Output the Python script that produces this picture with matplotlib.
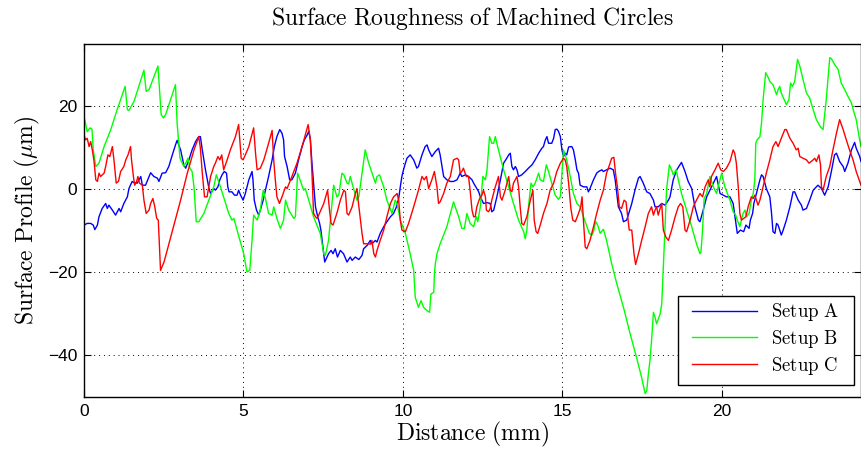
import matplotlib
matplotlib.use("Agg")
import matplotlib.pyplot as plt
from matplotlib.patches import Rectangle

plt.rcParams['mathtext.fontset'] = 'cm'
plt.rcParams['font.family'] = ['Liberation Sans', 'DejaVu Sans']

# ---- data ----
a_x = [0.00, 0.10, 0.21, 0.29, 0.34, 0.42, 0.47, 0.57, 0.68, 0.73, 0.78, 0.89, 0.99, 1.10, 1.15, 1.25, 1.36, 1.41, 1.51, 1.57,
       1.67, 1.78, 1.83, 1.93, 2.04, 2.09, 2.19, 2.30, 2.35, 2.45, 2.56, 2.66, 2.77, 2.87, 2.92, 3.03, 3.13, 3.19, 3.29, 3.39,
       3.50, 3.60, 3.65, 3.71, 3.81, 3.92, 3.97, 4.07, 4.12, 4.20, 4.26, 4.33, 4.40, 4.47, 4.51, 4.55, 4.64, 4.72, 4.80, 4.85,
       4.91, 4.99, 5.06, 5.17, 5.27, 5.30, 5.34, 5.41, 5.48, 5.53, 5.62, 5.69, 5.79, 5.90, 5.97, 6.05, 6.14, 6.21, 6.26, 6.29,
       6.37, 6.45, 6.52, 6.63, 6.73, 6.84, 6.91, 7.00, 7.05, 7.10, 7.15, 7.20, 7.26, 7.33, 7.39, 7.43, 7.48, 7.55, 7.62, 7.67,
       7.75, 7.81, 7.88, 7.95, 8.04, 8.14, 8.25, 8.35, 8.41, 8.51, 8.62, 8.72, 8.77, 8.88, 8.98, 9.03, 9.14, 9.19, 9.29, 9.40,
       9.50, 9.61, 9.71, 9.80, 9.87, 9.92, 9.97, 10.02, 10.08, 10.13, 10.23, 10.34, 10.44, 10.49, 10.60, 10.70, 10.76, 10.81, 10.91, 11.02,
       11.12, 11.17, 11.23, 11.28, 11.38, 11.49, 11.59, 11.70, 11.80, 11.85, 11.96, 12.06, 12.17, 12.22, 12.32, 12.38, 12.43, 12.53, 12.64, 12.74,
       12.79, 12.85, 12.95, 13.06, 13.16, 13.26, 13.32, 13.37, 13.42, 13.47, 13.53, 13.58, 13.63, 13.73, 13.84, 13.94, 14.05, 14.15, 14.26, 14.36,
       14.41, 14.47, 14.52, 14.57, 14.67, 14.73, 14.78, 14.83, 14.88, 14.94, 14.99, 15.04, 15.09, 15.14, 15.20, 15.30, 15.35, 15.41, 15.46, 15.51,
       15.56, 15.67, 15.77, 15.82, 15.87, 15.98, 16.08, 16.14, 16.24, 16.29, 16.39, 16.50, 16.60, 16.66, 16.71, 16.76, 16.86, 16.92, 17.02, 17.07,
       17.18, 17.28, 17.39, 17.44, 17.54, 17.65, 17.75, 17.86, 17.91, 18.01, 18.12, 18.22, 18.33, 18.38, 18.48, 18.59, 18.69, 18.74, 18.85, 18.95,
       19.06, 19.16, 19.27, 19.32, 19.42, 19.53, 19.63, 19.74, 19.84, 19.95, 20.05, 20.15, 20.26, 20.36, 20.46, 20.49, 20.59, 20.69, 20.76, 20.86,
       20.90, 20.97, 21.01, 21.09, 21.20, 21.25, 21.30, 21.40, 21.51, 21.56, 21.61, 21.67, 21.72, 21.77, 21.87, 21.93, 22.03, 22.14, 22.24, 22.29,
       22.40, 22.50, 22.55, 22.66, 22.76, 22.87, 22.97, 23.02, 23.13, 23.23, 23.34, 23.44, 23.54, 23.60, 23.70, 23.81, 23.86, 23.96, 24.07, 24.17,
       24.22, 24.33, 24.37]
a_y = [-8.6, -8.2, -8.2, -8.6, -9.7, -8.6, -6.6, -4.6, -3.4, -4.6, -3.8, -5.0, -6.2, -4.6, -5.4, -3.4, -1.8, 0.2, 1.9, 1.6,
       1.5, 3.1, 1.0, 1.0, 3.1, 4.0, 3.1, 2.7, 1.9, 3.9, 4.0, 5.5, 8.3, 10.7, 11.8, 9.5, 5.9, 5.1, 7.1, 9.5,
       11.5, 12.7, 12.7, 9.5, 4.7, 0.2, -1.0, 0.2, -0.2, 0.6, 2.3, 3.5, 4.3, 3.9, 0.6, -0.6, -0.6, -1.4, -1.4, -0.2,
       -1.4, -2.6, -1.0, 2.3, 4.3, 2.3, -2.6, -5.0, -6.2, -5.0, -2.6, -0.2, 3.1, 7.1, 10.3, 12.7, 14.4, 13.5, 11.9, 7.9,
       5.5, 2.3, 2.3, 3.9, 7.1, 10.3, 11.9, 13.1, 14.0, 11.9, 6.3, 1.5, -4.2, -6.6, -8.2, -9.8, -13.1, -17.5, -16.3, -15.5,
       -14.7, -15.5, -14.3, -16.3, -14.7, -15.5, -17.5, -16.3, -17.1, -16.3, -16.9, -15.9, -14.3, -13.5, -12.3, -13.1, -12.3, -12.7, -10.6, -9.0,
       -7.8, -6.6, -5.8, -4.2, -2.2, 0.6, 3.1, 4.7, 6.3, 7.5, 8.3, 7.1, 5.1, 5.5, 8.3, 10.3, 10.7, 9.5, 7.9, 9.1,
       9.9, 8.3, 5.5, 3.1, 2.3, 1.9, 1.9, 2.3, 3.9, 3.1, 3.5, 3.1, 2.3, 1.5, 0.2, -0.6, -1.8, -3.4, -3.2, -3.4,
       -5.4, -5.0, -1.8, 2.3, 6.3, 7.5, 8.3, 8.7, 5.5, 4.7, 5.5, 4.7, 3.1, 3.5, 4.3, 5.1, 5.9, 7.1, 8.7, 9.9,
       10.3, 11.9, 12.7, 11.1, 11.1, 12.3, 14.4, 14.5, 14.0, 12.7, 9.5, 7.9, 8.7, 8.3, 10.2, 10.3, 9.5, 7.1, 4.7, 3.9,
       1.0, 0.6, 0.6, -0.6, 0.2, 2.3, 3.9, 4.3, 4.7, 4.3, 4.7, 5.1, 4.7, 2.3, -1.0, -4.2, -5.8, -7.8, -7.4, -6.2,
       -3.4, -0.2, 2.7, 3.1, 1.5, -0.6, -1.0, -2.6, -4.2, -4.2, -3.4, -3.8, -2.6, -1.8, 2.3, 4.7, 5.9, 6.5, 4.3, 1.9,
       0.2, -4.2, -7.4, -7.8, -5.0, -1.8, -0.2, 1.5, 3.1, -1.0, -1.4, -1.8, -1.8, -3.4, -9.0, -10.6, -9.8, -10.2, -8.6, -9.4,
       -7.4, -5.8, -3.4, -1.0, 2.3, 3.5, 3.1, 0.2, -1.8, -5.4, -10.2, -10.6, -8.2, -8.6, -11.0, -9.8, -7.4, -4.2, -0.6, -0.6,
       -2.6, -3.8, -5.0, -4.6, -2.6, -0.2, 0.6, 1.0, 0.2, -1.4, 0.6, 4.3, 8.3, 8.7, 6.7, 5.5, 4.3, 6.3, 9.5, 11.3,
       9.9, 7.9, 6.7]

b_x = [0.00, 0.10, 0.19, 0.25, 0.29, 0.37, 0.47, 0.63, 0.84, 1.04, 1.29, 1.36, 1.41, 1.57, 1.88, 1.95, 2.04, 2.32, 2.42, 2.49,
       2.56, 2.87, 2.92, 3.01, 3.13, 3.19, 3.26, 3.32, 3.39, 3.45, 3.52, 3.60, 3.76, 4.07, 4.15, 4.28, 4.54, 4.64, 4.70, 4.80,
       5.01, 5.11, 5.20, 5.27, 5.32, 5.43, 5.53, 5.62, 5.69, 5.79, 5.90, 5.95, 6.05, 6.16, 6.26, 6.32, 6.42, 6.58, 6.63, 6.70,
       6.81, 6.89, 6.94, 7.05, 7.20, 7.41, 7.52, 7.57, 7.67, 7.72, 7.83, 7.93, 7.99, 8.09, 8.15, 8.25, 8.30, 8.35, 8.44, 8.56,
       8.62, 8.72, 8.82, 8.93, 9.14, 9.19, 9.27, 9.40, 9.50, 9.66, 9.76, 9.82, 9.92, 10.08, 10.23, 10.34, 10.39, 10.49, 10.57, 10.65,
       10.76, 10.84, 10.88, 10.97, 10.99, 11.02, 11.07, 11.17, 11.38, 11.59, 11.75, 11.85, 11.93, 12.01, 12.11, 12.22, 12.30, 12.35, 12.43, 12.51,
       12.59, 12.64, 12.72, 12.79, 12.85, 12.90, 13.00, 13.16, 13.32, 13.47, 13.63, 13.79, 13.84, 13.89, 13.94, 14.02, 14.08, 14.15, 14.26, 14.31,
       14.41, 14.50, 14.57, 14.67, 14.78, 14.88, 14.94, 14.99, 15.04, 15.14, 15.25, 15.35, 15.46, 15.56, 15.72, 15.85, 15.93, 15.98, 16.05, 16.11,
       16.19, 16.29, 16.39, 16.55, 16.71, 16.92, 17.13, 17.33, 17.49, 17.60, 17.65, 17.70, 17.75, 17.80, 17.86, 17.91, 17.96, 18.07, 18.12, 18.17,
       18.22, 18.27, 18.36, 18.43, 18.48, 18.57, 18.64, 18.74, 18.90, 19.06, 19.21, 19.32, 19.35, 19.40, 19.45, 19.53, 19.63, 19.74, 19.84, 19.89,
       20.00, 20.10, 20.26, 20.36, 20.44, 20.49, 20.57, 20.62, 20.67, 20.73, 20.78, 20.86, 20.93, 20.99, 21.04, 21.07, 21.11, 21.20, 21.25, 21.30,
       21.38, 21.46, 21.51, 21.61, 21.72, 21.77, 21.82, 21.87, 22.03, 22.11, 22.16, 22.22, 22.29, 22.38, 22.45, 22.55, 22.66, 22.76, 22.87, 22.97,
       23.10, 23.18, 23.28, 23.39, 23.44, 23.54, 23.65, 23.75, 23.86, 23.96, 24.07, 24.14, 24.22, 24.31, 24.37]
b_y = [17.6, 13.9, 14.8, 14.5, 9.5, 5.5, 6.3, 10.3, 14.4, 19.2, 24.8, 19.2, 19.0, 21.2, 28.7, 23.6, 24.0, 29.7, 18.0, 17.2,
       18.0, 25.2, 16.0, 7.5, 5.5, 6.3, 7.5, 5.1, 4.3, 0.6, -7.8, -7.8, -5.8, 0.6, 3.5, 0.6, -5.8, -7.4, -7.0, -9.8,
       -15.5, -19.9, -19.5, -12.3, -6.2, -7.4, -5.0, -0.2, -2.2, -5.8, -6.2, -4.2, -7.0, -9.4, -7.4, -2.6, -5.0, -7.0, -6.6, 3.9,
       1.5, -0.2, 0.2, -2.6, -6.6, -10.6, -15.5, -15.9, -12.3, -8.2, 1.0, -1.8, -1.4, 3.9, 3.5, 1.5, 1.3, 3.1, 0.6, -2.6,
       -1.8, 3.9, 9.5, 6.3, 1.5, 3.1, 3.5, 0.6, -2.6, -5.8, -2.6, -3.4, -7.4, -10.6, -15.5, -19.5, -26.0, -28.4, -26.8, -28.4,
       -29.2, -29.6, -25.2, -24.8, -20.3, -17.9, -15.5, -13.1, -9.0, -3.0, -6.6, -9.4, -9.4, -5.8, -8.2, -9.0, -6.6, -7.8, -4.2, 3.1,
       2.3, 4.7, 12.7, 11.1, 11.1, 12.7, 9.5, 4.7, 0.6, -3.4, -7.4, -10.2, -11.9, -9.8, -4.2, 1.5, 0.6, 1.5, 3.9, 2.3,
       1.9, 5.9, 4.3, 1.5, -1.4, -2.4, -1.8, 3.9, 9.5, 7.1, 3.1, -1.0, -3.4, -4.2, -7.8, -10.6, -11.0, -10.2, -7.8, -8.6,
       -10.6, -9.6, -12.3, -17.9, -22.7, -28.4, -34.8, -40.5, -45.3, -49.2, -48.5, -44.5, -41.3, -36.5, -29.6, -30.8, -32.4, -30.0, -27.6, -18.7,
       -9.8, -0.2, 5.9, 4.7, 3.5, 4.7, 2.3, -1.0, -5.0, -9.0, -13.1, -15.5, -15.1, -9.8, -2.2, -1.0, 3.1, 0.6, -1.0, 0.6,
       3.9, 0.6, -2.6, -5.4, -6.2, -7.4, -9.0, -7.4, -5.8, -5.0, -6.6, -5.8, -2.6, -1.0, 2.3, 11.1, 11.9, 12.7, 16.0, 21.6,
       28.1, 26.9, 26.0, 25.2, 22.8, 24.0, 24.8, 23.2, 20.4, 21.6, 25.6, 24.8, 26.0, 31.3, 29.7, 26.5, 23.2, 22.0, 19.2, 16.8,
       15.0, 14.4, 21.6, 31.7, 31.5, 30.1, 28.9, 25.6, 24.0, 22.4, 20.8, 18.8, 16.8, 12.7, 10.3]

c_x = [0.00, 0.05, 0.10, 0.16, 0.21, 0.26, 0.31, 0.37, 0.42, 0.47, 0.52, 0.63, 0.68, 0.75, 0.81, 0.89, 0.94, 1.01, 1.08, 1.15,
       1.25, 1.31, 1.38, 1.46, 1.49, 1.55, 1.59, 1.65, 1.69, 1.74, 1.83, 1.88, 1.95, 2.04, 2.09, 2.16, 2.22, 2.28, 2.33, 2.40,
       2.51, 2.72, 3.03, 3.24, 3.45, 3.60, 3.65, 3.71, 3.78, 3.86, 3.97, 4.07, 4.12, 4.20, 4.26, 4.32, 4.38, 4.49, 4.59, 4.75,
       4.85, 4.93, 4.99, 5.06, 5.17, 5.32, 5.38, 5.43, 5.53, 5.64, 5.79, 5.90, 5.95, 6.00, 6.05, 6.13, 6.21, 6.32, 6.37, 6.52,
       6.68, 6.84, 7.03, 7.10, 7.15, 7.20, 7.26, 7.31, 7.36, 7.52, 7.64, 7.70, 7.75, 7.81, 7.93, 8.04, 8.15, 8.20, 8.25, 8.30,
       8.41, 8.51, 8.56, 8.61, 8.67, 8.72, 8.77, 8.88, 8.98, 9.03, 9.09, 9.14, 9.19, 9.29, 9.40, 9.50, 9.61, 9.71, 9.82, 9.87,
       9.92, 9.97, 10.08, 10.18, 10.34, 10.49, 10.60, 10.67, 10.74, 10.81, 10.91, 10.99, 11.07, 11.12, 11.17, 11.28, 11.38, 11.49, 11.59, 11.70,
       11.75, 11.80, 11.85, 11.90, 11.99, 12.06, 12.11, 12.17, 12.22, 12.27, 12.32, 12.41, 12.48, 12.53, 12.59, 12.62, 12.69, 12.74, 12.79, 12.90,
       13.00, 13.06, 13.11, 13.21, 13.32, 13.37, 13.42, 13.47, 13.58, 13.63, 13.68, 13.73, 13.79, 13.89, 14.00, 14.08, 14.12, 14.18, 14.23, 14.31,
       14.41, 14.52, 14.62, 14.73, 14.83, 14.94, 15.04, 15.09, 15.14, 15.20, 15.27, 15.33, 15.41, 15.51, 15.58, 15.62, 15.67, 15.72, 15.77, 15.87,
       15.98, 16.08, 16.19, 16.29, 16.39, 16.50, 16.55, 16.62, 16.67, 16.73, 16.79, 16.86, 16.94, 17.00, 17.04, 17.10, 17.18, 17.25, 17.30, 17.39,
       17.49, 17.60, 17.70, 17.80, 17.86, 17.91, 17.96, 18.01, 18.07, 18.12, 18.17, 18.25, 18.33, 18.43, 18.54, 18.64, 18.71, 18.78, 18.85, 18.90,
       19.01, 19.11, 19.21, 19.32, 19.40, 19.48, 19.58, 19.63, 19.68, 19.79, 19.89, 19.97, 20.05, 20.15, 20.26, 20.36, 20.41, 20.46, 20.52, 20.57,
       20.62, 20.69, 20.76, 20.83, 20.93, 20.99, 21.04, 21.09, 21.14, 21.20, 21.30, 21.40, 21.51, 21.61, 21.70, 21.77, 21.87, 21.98, 22.03, 22.14,
       22.24, 22.29, 22.34, 22.40, 22.45, 22.55, 22.66, 22.74, 22.87, 22.92, 22.97, 23.05, 23.10, 23.13, 23.18, 23.28, 23.39, 23.49, 23.60, 23.70,
       23.81, 23.91, 24.01, 24.12, 24.22, 24.37]
c_y = [13.1, 11.9, 12.3, 10.3, 11.5, 9.5, 7.1, 2.3, 1.9, 3.9, 3.1, 3.9, 5.5, 8.3, 7.9, 10.3, 7.1, 1.5, 1.9, 4.3,
       5.5, 7.1, 8.3, 10.3, 7.1, 3.1, 1.0, 1.9, 3.1, 1.5, 1.0, -2.6, -5.8, -5.0, -3.4, -2.2, -4.2, -7.0, -7.4, -19.5,
       -17.5, -11.5, -2.6, 3.9, 9.5, 12.7, 9.9, 3.9, -1.8, -1.8, 3.1, 5.5, 6.3, 7.9, 7.1, 8.3, 4.7, 7.1, 9.5, 12.7,
       15.6, 7.5, 7.1, 8.3, 10.3, 14.8, 8.7, 4.7, 5.1, 7.1, 11.1, 14.2, 7.1, 2.3, -1.8, -3.4, -1.8, 0.6, 0.2, 3.1,
       6.3, 10.3, 15.6, 11.9, 3.9, -5.8, -6.6, -7.0, -6.2, -3.4, -0.2, -5.0, -8.2, -8.6, -5.8, -2.6, -0.2, -0.6, -5.8, -6.2,
       -4.2, -1.0, 0.2, -3.4, -7.4, -10.6, -13.1, -13.1, -13.2, -12.3, -15.5, -16.3, -14.7, -12.3, -9.8, -6.6, -3.4, -1.8, -1.0, -2.6,
       -7.4, -9.8, -10.2, -8.2, -4.2, -0.2, 3.1, 2.3, 3.1, 0.2, 2.3, 4.3, 0.6, -3.4, -3.0, -1.0, 1.5, 3.1, 7.1, 7.5,
       7.1, 3.9, 4.3, 5.1, 3.1, 3.1, -0.2, -5.0, -6.6, -6.6, -4.2, -2.2, -1.4, -0.2, -1.8, -5.0, -5.4, -4.6, -2.6, 0.6,
       3.1, -1.8, -2.6, -0.2, 3.1, -0.2, -0.6, 1.5, 3.1, 0.6, -4.2, -8.2, -8.6, -6.6, -2.6, -0.2, -7.4, -10.2, -10.6, -8.6,
       -5.8, -3.4, -0.2, 1.5, 4.3, 6.3, 7.5, 7.1, 5.5, 1.5, -4.6, -7.4, -7.8, -5.8, -4.2, -1.8, -8.2, -13.9, -14.3, -12.3,
       -9.0, -5.8, -2.6, -0.2, 3.9, 6.3, 7.5, 7.7, 3.9, 0.6, -4.2, -4.6, -2.6, -3.0, -5.8, -9.8, -9.8, -15.5, -18.1, -15.5,
       -12.3, -9.0, -5.8, -4.2, -6.2, -5.0, -4.2, -6.2, -4.6, -3.4, -9.8, -11.5, -12.3, -9.8, -6.6, -4.2, -3.4, -4.2, -9.8, -10.2,
       -7.4, -4.2, -2.6, -1.0, -1.8, 0.6, 2.3, 0.6, 3.1, 4.7, 6.3, 4.7, 4.3, 5.1, 6.7, 9.5, 8.7, 6.3, 0.6, -5.8,
       -7.4, -7.0, -6.6, -4.2, -1.8, -2.2, -1.4, -2.6, -3.8, -2.6, 0.6, 3.9, 7.1, 10.3, 11.5, 10.3, 12.3, 14.4, 14.4, 12.3,
       11.1, 10.3, 9.5, 9.9, 7.9, 7.5, 7.1, 6.3, 7.1, 7.5, 6.7, 8.3, 5.9, 0.6, -0.2, 3.1, 5.5, 9.5, 13.5, 16.8,
       14.4, 11.9, 9.5, 7.1, 4.3, 1.0]

series_labels = ['Setup A', 'Setup B', 'Setup C']
x_ticks = [0, 5, 10, 15, 20]
y_ticks = [-40, -20, 0, 20]

# ---- figure ----
fig = plt.figure(figsize=(8.62, 4.58), dpi=100)
ax = fig.add_axes([84/862, 1-397/458, 777/862, 353/458])

series = [(a_x, a_y, (0, 0, 1)), (b_x, b_y, (0, 1, 0)), (c_x, c_y, (1, 0, 0))]
for (xs, ys, col), lab in zip(series, series_labels):
    ax.plot(xs, ys, color=col, lw=1.0, label=r'$\mathrm{' + lab.replace(' ', r'\ ') + '}$')

ax.set_xlim(0, 24.37)
ax.set_ylim(-50, 35)
ax.set_xticks(x_ticks)
ax.set_yticks(y_ticks)
ax.set_yticklabels(['\u2212' + str(-v) if v < 0 else str(v) for v in y_ticks])
ax.tick_params(direction='in', top=True, right=True, length=5, width=0.8, labelsize=12.5, pad=5)
ax.grid(True, color='black', linestyle=(0, (1, 4)), linewidth=0.7)
for s in ax.spines.values():
    s.set_linewidth(1.0)

ax.set_title(r'$\mathrm{Surface\ Roughness\ of\ Machined\ Circles}$', fontsize=17, pad=14)
ax.set_xlabel(r'$\mathrm{Distance\ (mm)}$', fontsize=17, labelpad=1)
ax.set_ylabel(r'$\mathrm{Surface\ Profile\ (\mu m)}$', fontsize=17, labelpad=4)

# legend frame drawn separately so padding can differ horizontally/vertically
frame = Rectangle((0.7645, 0.034), 0.2265, 0.2521, transform=ax.transAxes,
                  facecolor='white', edgecolor='black', linewidth=1.0, zorder=4.5)
ax.add_patch(frame)
leg = ax.legend(loc='lower right', bbox_to_anchor=(0.9826, 0.034), borderaxespad=0,
                fontsize=13.5, frameon=False,
                handlelength=3.5, handletextpad=0.75, labelspacing=0.25, borderpad=0.45)
leg.set_zorder(5)

fig.savefig('out.png', dpi=100)
